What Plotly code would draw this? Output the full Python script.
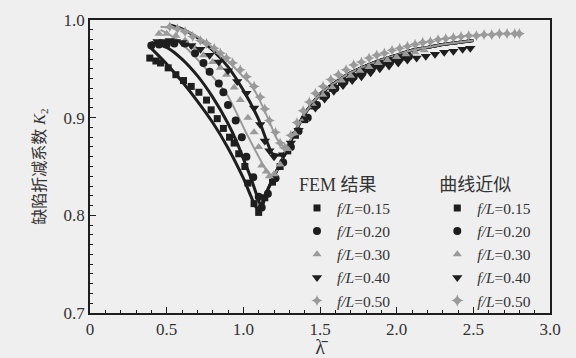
import plotly.graph_objects as go

# ---------------- data ----------------
fl_labels = ["0.15", "0.20", "0.30", "0.40", "0.50"]

# FEM results (markers)
fem015_x = [0.39, 0.43, 0.46, 0.51, 0.56, 0.61, 0.66, 0.71, 0.76, 0.79, 0.83, 0.87, 0.91, 0.94, 0.97, 1.01, 1.03, 1.07, 1.10,
            1.14, 1.19, 1.24, 1.29, 1.34, 1.40, 1.46, 1.52, 1.58, 1.64, 1.70, 1.76, 1.82, 1.88, 1.94, 2.00, 2.05]
fem015_y = [0.961, 0.958, 0.956, 0.951, 0.944, 0.938, 0.932, 0.926, 0.918, 0.908, 0.899, 0.889, 0.880, 0.874, 0.863, 0.850, 0.833, 0.812, 0.803,
            0.818, 0.834, 0.850, 0.866, 0.882, 0.898, 0.912, 0.922, 0.930, 0.936, 0.941, 0.946, 0.950, 0.954, 0.957, 0.960, 0.962]

fem020_x = [0.40, 0.45, 0.50, 0.55, 0.62, 0.685, 0.74, 0.78, 0.84, 0.87, 0.90, 0.95, 0.99, 1.02, 1.065, 1.10, 1.12,
            1.16, 1.21, 1.26, 1.31, 1.36, 1.42, 1.48, 1.54, 1.60, 1.66, 1.72, 1.78, 1.84, 1.90, 1.96, 2.02, 2.08]
fem020_y = [0.974, 0.975, 0.975, 0.976, 0.976, 0.966, 0.956, 0.947, 0.935, 0.926, 0.913, 0.897, 0.880, 0.860, 0.839, 0.819, 0.808,
            0.822, 0.838, 0.854, 0.870, 0.886, 0.900, 0.913, 0.923, 0.930, 0.937, 0.942, 0.947, 0.951, 0.955, 0.958, 0.961, 0.963]

fem030_x = [0.45, 0.50, 0.56, 0.62, 0.68, 0.74, 0.80, 0.85, 0.89, 0.94, 0.98, 1.03, 1.07, 1.10, 1.12, 1.15, 1.17, 1.20,
            1.24, 1.29, 1.34, 1.40, 1.46, 1.52, 1.58, 1.64, 1.70, 1.76, 1.82, 1.88, 1.94, 2.00, 2.06, 2.12, 2.18]
fem030_y = [0.986, 0.986, 0.984, 0.979, 0.972, 0.964, 0.957, 0.951, 0.944, 0.931, 0.918, 0.900, 0.885, 0.870, 0.851, 0.845, 0.840, 0.842,
            0.852, 0.868, 0.884, 0.899, 0.912, 0.923, 0.931, 0.938, 0.943, 0.948, 0.952, 0.956, 0.959, 0.962, 0.965, 0.967, 0.969]

fem040_x = [0.44, 0.48, 0.52, 0.56, 0.60, 0.66, 0.72, 0.78, 0.84, 0.90, 0.96, 1.02, 1.07, 1.11, 1.14, 1.17, 1.20,
            1.26, 1.31, 1.36, 1.41, 1.47, 1.53, 1.59, 1.65, 1.71, 1.77, 1.83, 1.89, 1.95, 2.01, 2.07, 2.13, 2.19, 2.25, 2.31, 2.37, 2.43, 2.48]
fem040_y = [0.978, 0.978, 0.979, 0.978, 0.977, 0.974, 0.970, 0.964, 0.957, 0.948, 0.937, 0.925, 0.910, 0.893, 0.876, 0.866, 0.860,
            0.862, 0.874, 0.887, 0.899, 0.910, 0.919, 0.927, 0.933, 0.938, 0.942, 0.946, 0.950, 0.953, 0.956, 0.959, 0.961, 0.963, 0.965, 0.967, 0.968, 0.970, 0.971]

fem050_x = [0.52, 0.57, 0.62, 0.67, 0.72, 0.76, 0.81, 0.85, 0.89, 0.93, 0.98, 1.02, 1.07, 1.11, 1.14, 1.17, 1.21, 1.24, 1.27,
            1.31, 1.35, 1.39, 1.43, 1.47, 1.52, 1.57, 1.62, 1.67, 1.72, 1.77, 1.82, 1.87, 1.92, 1.97, 2.02, 2.07, 2.12, 2.17,
            2.22, 2.27, 2.32, 2.37, 2.42, 2.47, 2.52, 2.57, 2.62, 2.67, 2.72, 2.77, 2.80]
fem050_y = [0.993, 0.991, 0.988, 0.983, 0.979, 0.976, 0.971, 0.966, 0.961, 0.956, 0.949, 0.942, 0.932, 0.921, 0.909, 0.897, 0.885, 0.874, 0.869,
            0.882, 0.895, 0.907, 0.916, 0.925, 0.932, 0.939, 0.944, 0.949, 0.954, 0.957, 0.961, 0.964, 0.966, 0.969, 0.971, 0.973, 0.975, 0.977,
            0.978, 0.980, 0.981, 0.982, 0.983, 0.984, 0.984, 0.985, 0.985, 0.986, 0.986, 0.986, 0.986]

# curve approximations (lines)
right_x = [1.15, 1.20, 1.26, 1.30, 1.35, 1.40, 1.50, 1.60, 1.70, 1.80, 1.90, 2.00, 2.10, 2.20, 2.30, 2.40, 2.50]
right_y = [0.823, 0.840, 0.859, 0.873, 0.889, 0.904, 0.924, 0.936, 0.946, 0.953, 0.959, 0.964, 0.969, 0.972, 0.975, 0.977, 0.979]

fit015_x = [0.40, 0.50, 0.60, 0.70, 0.80, 0.90, 1.00, 1.08, 1.10] + right_x
fit015_y = [0.971, 0.955, 0.937, 0.917, 0.895, 0.869, 0.838, 0.809, 0.806] + right_y

fit020_x = [0.40, 0.50, 0.60, 0.70, 0.80, 0.90, 0.96, 1.00, 1.05, 1.10, 1.12] + right_x
fit020_y = [0.977, 0.972, 0.960, 0.943, 0.921, 0.894, 0.874, 0.858, 0.838, 0.815, 0.808] + right_y

fit030_x = [0.46, 0.55, 0.65, 0.80, 0.90, 1.02, 1.10, 1.15, 1.19, 1.22, 1.26] + right_x[3:]
fit030_y = [0.990, 0.982, 0.968, 0.942, 0.922, 0.884, 0.860, 0.846, 0.840, 0.846, 0.859] + right_y[3:]

fit040_x = [0.52, 0.60, 0.70, 0.80, 0.90, 1.00, 1.10, 1.16, 1.19, 1.26] + right_x[3:]
fit040_y = [0.995, 0.991, 0.982, 0.969, 0.952, 0.928, 0.898, 0.873, 0.863, 0.862] + right_y[3:]

fit050_x = [0.46, 0.60, 0.70, 0.80, 0.90, 1.00, 1.04, 1.10, 1.17, 1.22, 1.27] + right_x[4:]
fit050_y = [0.993, 0.990, 0.983, 0.972, 0.958, 0.942, 0.936, 0.920, 0.896, 0.878, 0.870] + right_y[4:]

x_tickvals = [0, 0.5, 1.0, 1.5, 2.0, 2.5, 3.0]
x_ticktext = ["0", "0.5", "1.0", "1.5", "2.0", "2.5", "3.0"]
y_tickvals = [0.7, 0.8, 0.9, 1.0]
y_ticktext = ["0.7", "0.8", "0.9", "1.0"]

# ---------------- styles ----------------
BLACK = "#1e1e1e"
GRAY = "#9a9a9a"
symbols = ["square", "circle", "triangle-up", "triangle-down", "star-diamond"]
colors = [BLACK, BLACK, GRAY, BLACK, GRAY]
msizes = [7, 8, 8, 9, 8]
leg_sizes = [7, 8, 8, 9, 9]
line_widths = [3, 3, 2, 3, 2]

fem_x = [fem015_x, fem020_x, fem030_x, fem040_x, fem050_x]
fem_y = [fem015_y, fem020_y, fem030_y, fem040_y, fem050_y]
fit_x = [fit015_x, fit020_x, fit030_x, fit040_x, fit050_x]
fit_y = [fit015_y, fit020_y, fit030_y, fit040_y, fit050_y]

SERIF = "Liberation Serif"
MIXED = "Liberation Serif, Noto Sans CJK SC, serif"

fig = go.Figure()

for i in range(5):
    fig.add_trace(go.Scatter(
        x=fit_x[i], y=fit_y[i], mode="lines",
        line=dict(color=colors[i], width=line_widths[i], shape="spline", smoothing=0.6),
        showlegend=False, hoverinfo="skip"))

for i in range(5):
    fig.add_trace(go.Scatter(
        x=fem_x[i], y=fem_y[i], mode="markers",
        marker=dict(symbol=symbols[i], color=colors[i], size=msizes[i], line=dict(width=0)),
        name="<i>f/L</i>=" + fl_labels[i], legend="legend"))

for i in range(5):
    fig.add_trace(go.Scatter(
        x=[None], y=[None], mode="markers",
        marker=dict(symbol=symbols[i], color=colors[i], size=leg_sizes[i], line=dict(width=0)),
        name="<i>f/L</i>=" + fl_labels[i], legend="legend2"))

axis_common = dict(
    showline=True, linecolor=BLACK, linewidth=1.5, mirror=True,
    ticks="inside", ticklen=6, tickwidth=1.3, tickcolor=BLACK,
    showgrid=False, zeroline=False,
    tickfont=dict(family=SERIF, size=17, color="#333"),
)

fig.update_layout(
    template="none",
    width=576, height=358,
    margin=dict(l=90, r=26, t=20, b=45),
    paper_bgcolor="#efefef", plot_bgcolor="#efefef",
    font=dict(family=MIXED, color="#333"),
    xaxis=dict(range=[0, 3.0], tickvals=x_tickvals, ticktext=x_ticktext,
               minor=dict(dtick=0.1, tick0=0, ticks="inside", ticklen=3, tickcolor=BLACK),
               title=dict(text="λ̄", font=dict(family=SERIF, size=20), standoff=5),
               **axis_common),
    yaxis=dict(range=[0.7, 1.0], tickvals=y_tickvals, ticktext=y_ticktext,
               minor=dict(dtick=0.01, tick0=0.7, ticks="inside", ticklen=3, tickcolor=BLACK),
               title=dict(text="缺陷折减系数 <i>K</i><sub>2</sub>", font=dict(family=MIXED, size=16), standoff=14),
               **axis_common),
    legend=dict(x=0.45, y=0.495, xanchor="left", yanchor="top",
                title=dict(text="FEM 结果", font=dict(family=MIXED, size=18)),
                font=dict(family=SERIF, size=15.5, color="#333"),
                bgcolor="rgba(0,0,0,0)", tracegroupgap=0, itemwidth=30),
    legend2=dict(x=0.755, y=0.495, xanchor="left", yanchor="top",
                 title=dict(text="曲线近似", font=dict(family=MIXED, size=18)),
                 font=dict(family=SERIF, size=15.5, color="#333"),
                 bgcolor="rgba(0,0,0,0)", tracegroupgap=0, itemwidth=30),
)

fig.write_html("out.html")
